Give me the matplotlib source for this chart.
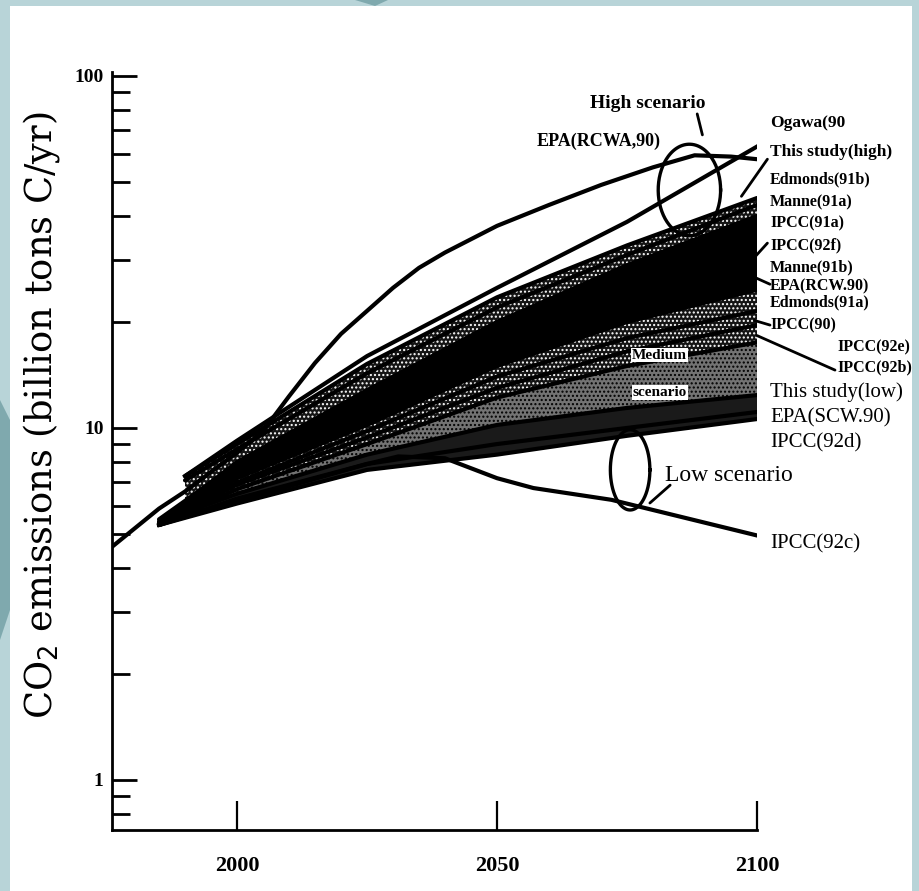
import numpy as np
import matplotlib.pyplot as plt
from matplotlib.patches import Rectangle, Polygon

# -- data (billion tons C/yr)
years = [1985, 2000, 2025, 2050, 2075, 2100]
years_90 = [1990, 2000, 2025, 2050, 2075, 2100]

epa_rcwa_years = [1976, 1985, 1990, 1995, 2000, 2005, 2010, 2015, 2020, 2025, 2030, 2035,
                  2040, 2050, 2060, 2070, 2080, 2088, 2095, 2100]
epa_rcwa = [4.6, 5.9, 6.6, 7.5, 8.5, 9.8, 12.3, 15.3, 18.5, 21.5, 25.0, 28.5,
            31.5, 37.5, 43.0, 49.0, 55.0, 59.5, 59.0, 58.0]

ogawa = [7.3, 9.2, 16.0, 25.0, 38.5, 63.0]
this_study_high = [7.3, 9.0, 15.2, 23.5, 33.0, 45.0]
edmonds_91b = [7.1, 8.7, 14.3, 22.0, 31.0, 43.0]
manne_91a = [5.4, 8.0, 12.8, 20.0, 29.0, 40.0]
ipcc_91a = [5.5, 7.9, 12.2, 19.0, 27.0, 37.0]
ipcc_92f = [5.4, 7.7, 11.6, 18.0, 25.0, 33.0]
manne_91b = [5.3, 7.5, 11.0, 16.8, 23.0, 29.6]
epa_rcw_90 = [5.4, 7.4, 10.6, 16.0, 21.5, 27.3]
edmonds_91a = [5.3, 7.2, 10.2, 15.0, 20.0, 24.7]
ipcc_90 = [5.4, 7.0, 9.8, 14.0, 18.0, 21.5]
ipcc_92e = [5.3, 6.9, 9.4, 13.0, 16.5, 19.6]
ipcc_92b = [5.3, 6.7, 9.0, 12.2, 15.0, 17.5]
this_study_low = [5.4, 6.5, 8.4, 10.2, 11.4, 12.4]
epa_scw_90 = [5.3, 6.3, 7.9, 9.0, 10.0, 11.1]
ipcc_92d = [5.3, 6.1, 7.6, 8.4, 9.5, 10.6]

ipcc_92c_years = [1985, 2000, 2025, 2031, 2040, 2050, 2057, 2072, 2100]
ipcc_92c = [5.3, 6.2, 7.9, 8.3, 8.2, 7.2, 6.75, 6.25, 4.95]

# right-hand labels and the value each one sits at
label_text = ["Ogawa(90", "This study(high)", "Edmonds(91b)", "Manne(91a)", "IPCC(91a)",
              "IPCC(92f)", "Manne(91b)", "EPA(RCW.90)", "Edmonds(91a)", "IPCC(90)",
              "IPCC(92e)", "IPCC(92b)", "This study(low)", "EPA(SCW.90)", "IPCC(92d)", "IPCC(92c)"]
label_value = [73.5, 60.8, 50.7, 43.6, 38.0, 32.9, 28.5, 25.3, 22.8, 19.6,
               16.9, 14.9, 12.6, 10.7, 9.1, 4.7]

serif = ['Liberation Serif', 'DejaVu Serif']
teal = '#7fa9ae'

fig = plt.figure(figsize=(9.2, 8.91), dpi=100, facecolor='#b8d4d8')
fig.patches.append(Rectangle((10 / 920, 0), 902 / 920, 885 / 891, transform=fig.transFigure,
                             facecolor='white', edgecolor='none', zorder=-5))
fig.patches.append(Polygon([[0, 1 - 400 / 891], [10 / 920, 1 - 420 / 891], [10 / 920, 1 - 610 / 891],
                            [0, 1 - 640 / 891]], closed=True, transform=fig.transFigure,
                           facecolor=teal, edgecolor='none', zorder=-5))
fig.patches.append(Polygon([[355 / 920, 1], [388 / 920, 1], [375 / 920, 1 - 6 / 891]], closed=True,
                           transform=fig.transFigure, facecolor=teal, edgecolor='none', zorder=-5))

ax = fig.add_axes([112 / 920, 1 - 830 / 891, 645 / 920, 758 / 891])
ax.set_facecolor('none')
ax.set_yscale('log')
ax.set_xlim(1975.96, 2100)
ax.set_ylim(0.721, 102.6)

# -- medium scenario band: dark stipple on top, lighter stipple lower down
low_on_90 = np.interp(years_90, years, ipcc_92d)
ax.fill_between(years_90, this_study_high, low_on_90, facecolor='0.08', edgecolor='white',
                hatch='....', lw=0, zorder=1)
ax.fill_between(years, manne_91a, edmonds_91a, facecolor='black', lw=0, zorder=1)
ax.fill_between(years, ipcc_92b, this_study_low, facecolor='0.45', edgecolor='black',
                hatch='....', lw=0, zorder=1)
ax.fill_between(years, this_study_low, ipcc_92d, facecolor='0.1', lw=0, zorder=1)

band = [this_study_high, edmonds_91b, manne_91a, ipcc_91a, ipcc_92f, manne_91b, epa_rcw_90,
        edmonds_91a, ipcc_90, ipcc_92e, ipcc_92b, this_study_low, epa_scw_90, ipcc_92d]
for i, vals in enumerate(band):
    xs = years_90 if i < 2 else years
    ax.plot(xs, vals, color='black', lw=3, solid_capstyle='round', zorder=3)
ax.plot(years_90, ogawa, color='black', lw=3, zorder=3)
ax.plot(epa_rcwa_years, epa_rcwa, color='black', lw=3, zorder=3)
ax.plot(ipcc_92c_years, ipcc_92c, color='black', lw=3, zorder=3)

# -- scenario ellipses
t = np.linspace(0, 2 * np.pi, 200)
ax.plot(2087 + 6.0 * np.cos(t), 10 ** (1.676 + 0.13 * np.sin(t)), color='black', lw=2.4, zorder=2)
ax.plot(2075.6 + 3.8 * np.cos(t), 10 ** (0.881 + 0.114 * np.sin(t)), color='black', lw=2.4, zorder=4)

# -- text
small = label_text[1:12]
for txt, val in zip(label_text, label_value):
    if txt == "Ogawa(90":
        size, weight = 12.5, 'bold'
    elif txt == "This study(high)":
        size, weight = 12.5, 'bold'
    elif txt in small:
        size, weight = 11.5, 'bold'
    else:
        size, weight = 15, 'normal'
    x = 2115.5 if txt in ("IPCC(92e)", "IPCC(92b)") else 2102.5
    ax.text(x, val, txt, family=serif, fontsize=size, fontweight=weight,
            va='center', ha='left', clip_on=False)

def pointer(x0, y0, x1, y1):
    ax.annotate('', xy=(x1, y1), xytext=(x0, y0), annotation_clip=False,
                arrowprops=dict(arrowstyle='-', lw=2, color='black', shrinkA=0, shrinkB=0))

pointer(2102.0, 58.0, 2097.0, 45.5)
pointer(2102.0, 33.5, 2099.5, 30.5)
pointer(2102.5, 25.6, 2099.5, 26.8)
pointer(2102.5, 19.6, 2099.5, 20.2)
pointer(2115.0, 14.6, 2100.0, 18.3)
pointer(2088.5, 78.0, 2089.5, 68.0)
pointer(2083.3, 6.88, 2079.4, 6.12)

ax.text(2079, 83.7, "High scenario", family=serif, fontsize=14, fontweight='bold',
        ha='center', va='center')
ax.text(2069.5, 65, "EPA(RCWA,90)", family=serif, fontsize=13, fontweight='bold',
        ha='center', va='center')
ax.text(2082.3, 7.35, "Low scenario", family=serif, fontsize=17, ha='left', va='center')
ax.text(2081.3, 16.1, "Medium", family=serif, fontsize=11, fontweight='bold', ha='center',
        va='center', zorder=5, bbox=dict(facecolor='white', edgecolor='none', pad=0.5))
ax.text(2081.3, 12.6, "scenario", family=serif, fontsize=11, fontweight='bold', ha='center',
        va='center', zorder=5, bbox=dict(facecolor='white', edgecolor='none', pad=0.5))

# -- axes styling
for side in ('top', 'right'):
    ax.spines[side].set_visible(False)
for side in ('left', 'bottom'):
    ax.spines[side].set_linewidth(2)
ax.set_xticks([2000, 2050, 2100])
ax.set_xticklabels(['2000', '2050', '2100'], family=serif, fontsize=16, fontweight='bold')
ax.set_yticks([1, 10, 100])
ax.set_yticklabels(['1', '10', '100'], family=serif, fontsize=14, fontweight='bold')
ax.tick_params(axis='x', direction='in', length=21, width=1.6, pad=19)
ax.tick_params(axis='y', which='major', direction='in', length=18, width=2, pad=6)
ax.tick_params(axis='y', which='minor', direction='in', length=13, width=2)
ax.set_ylabel("CO$_2$ emissions (billion tons C/yr)", family='DejaVu Serif', fontsize=26.5)
ax.yaxis.set_label_coords(-0.078, 0.547)

fig.savefig('out.png', dpi=100, facecolor=fig.get_facecolor())
